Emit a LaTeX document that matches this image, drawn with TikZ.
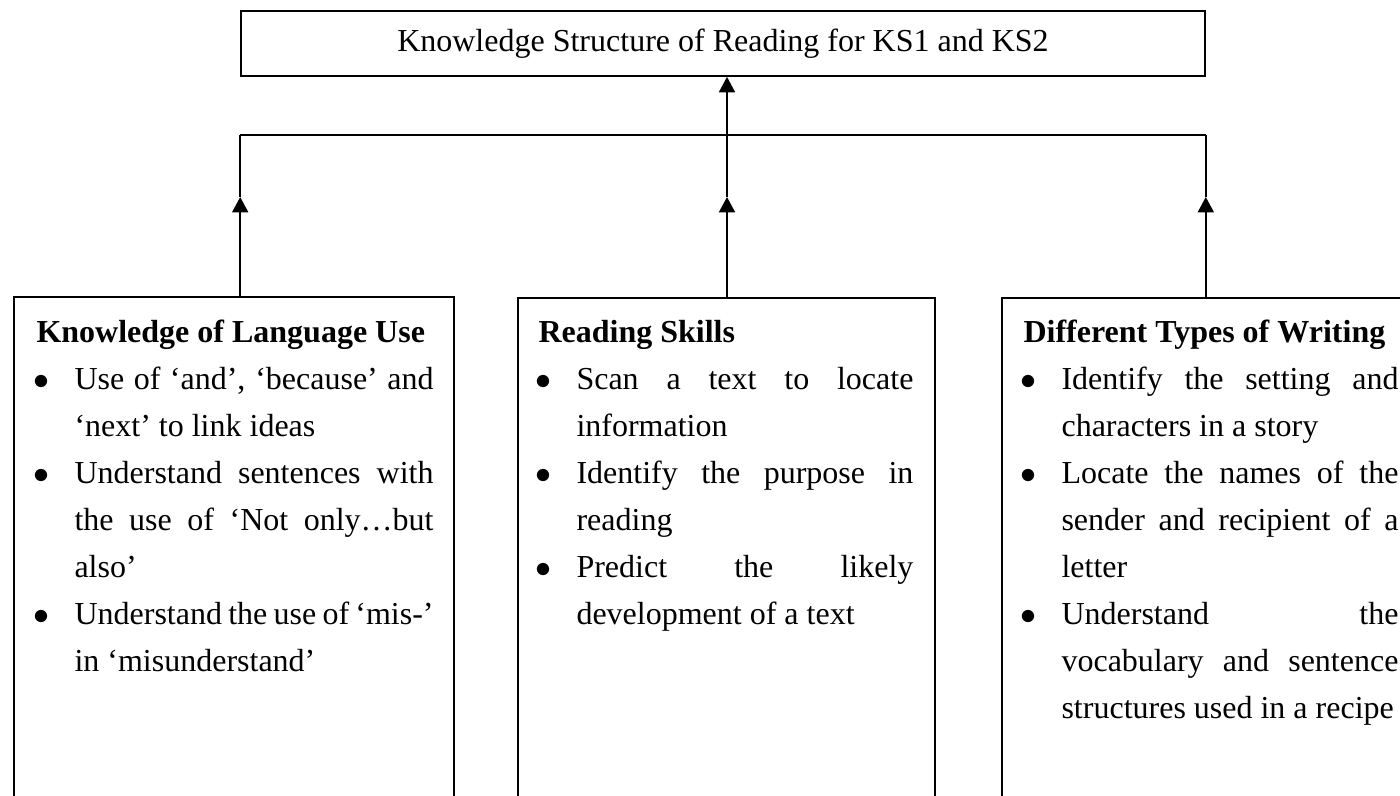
\documentclass[tikz,border=0pt]{standalone}
\usepackage{fontspec}
\setmainfont{Liberation Serif}
\usetikzlibrary{arrows.meta}

\newenvironment{dotlist}{%
  \begin{list}{\hspace*{-1pt}$\bullet$\hfill}{%
    \setlength{\leftmargin}{14.25pt}\setlength{\labelwidth}{14.25pt}%
    \setlength{\labelsep}{0pt}\setlength{\topsep}{0pt}\setlength{\partopsep}{0pt}%
    \setlength{\itemsep}{0pt}\setlength{\parsep}{0pt}}}
  {\end{list}}

\begin{document}
\begin{tikzpicture}[
  x=0.375pt, y=-0.375pt, >={Triangle[length=5.8pt,width=6pt]},
  font=\fontsize{12}{17.6}\selectfont,
  box/.style={draw, line width=0.6pt, inner sep=0pt},
  colbox/.style={box, anchor=north, minimum height=200pt},
  blurb/.style={anchor=base west, inner sep=0pt, align=justify,
    execute at begin node={\sloppy\hyphenpenalty=10000\parskip=0pt}},
  wire/.style={line width=0.6pt},
  feed/.style={line width=0.8pt, ->},
]
  \clip (0,0) rectangle (1400,796);
  \node[box, minimum width=361.5pt, minimum height=24.4pt] (title) at (723,43.5)
    {Knowledge Structure of Reading for KS1 and KS2};

  \node[colbox, minimum width=165pt] (lang) at (234,296) {};
  \node[colbox, minimum width=156.4pt] (skill) at (726.5,297) {};
  \node[colbox, minimum width=165pt] (types) at (1222,297) {};

  \node[blurb, text width=148.9pt] (langtxt) at (36,343) {%
    \textbf{Knowledge of Language Use}\par
    \begin{dotlist}
      \item Use of ‘and’, ‘because’ and\linebreak ‘next’ to link ideas
      \item Understand sentences with\linebreak the use of ‘Not only…but\linebreak also’
      \item Understand the use of ‘mis-’\linebreak in ‘misunderstand’
    \end{dotlist}};
  \node[blurb, text width=140.6pt] (skilltxt) at (538,343) {%
    \textbf{Reading Skills}\par
    \begin{dotlist}
      \item Scan a text to locate\linebreak information
      \item Identify the purpose in\linebreak reading
      \item Predict the likely\linebreak development of a text
    \end{dotlist}};
  \node[blurb, text width=140.6pt] (typestxt) at (1023,343) {%
    \textbf{Different Types of Writing}\par
    \begin{dotlist}
      \item Identify the setting and\linebreak characters in a story
      \item Locate the names of the\linebreak sender and recipient of a\linebreak letter
      \item Understand the\linebreak vocabulary and sentence\linebreak structures used in a recipe
    \end{dotlist}};

  % joining bar
  \coordinate (jl) at (title.west |- 0,135);
  \coordinate (jr) at (title.east |- 0,135);
  \coordinate (al) at (jl |- 0,197);
  \coordinate (ar) at (jr |- 0,197);
  \coordinate (am) at (727,197);
  \draw[wire] (jl) -- (jr);
  \draw[feed] (lang.north -| jl) -- (al);
  \draw[wire] (al) -- (jl);
  \draw[feed] (types.north -| jr) -- (ar);
  \draw[wire] (ar) -- (jr);
  \draw[feed] (skill.north -| am) -- (am);
  \draw[wire, ->] (am) -- (title.south -| am);
\end{tikzpicture}
\end{document}
